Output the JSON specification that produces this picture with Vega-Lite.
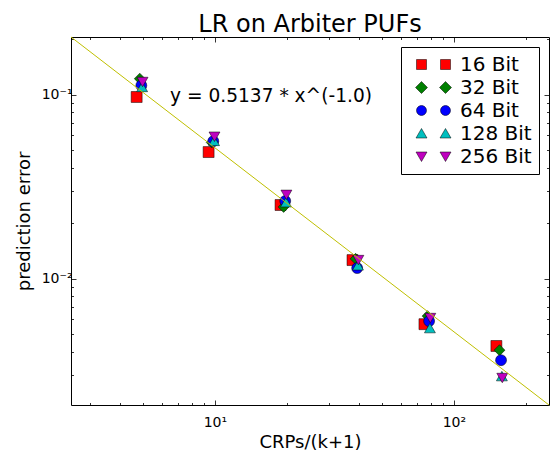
{
  "$schema": "https://vega.github.io/schema/vega-lite/v6.json",
  "width": 478,
  "height": 368,
  "autosize": {"type": "none"},
  "padding": {"left": 71, "top": 37, "right": 5, "bottom": 47},
  "title": {"text": "LR on Arbiter PUFs", "fontSize": 24, "font": "DejaVu Sans", "fontWeight": "normal", "anchor": "middle", "frame": "group", "baseline": "alphabetic", "offset": -24, "color": "black"},
  "config": {
    "view": {"stroke": "black", "strokeWidth": 1},
    "font": "DejaVu Sans",
    "axis": {"domain": false, "grid": false, "labelFont": "DejaVu Sans", "titleFont": "DejaVu Sans", "labelColor": "black", "titleColor": "black", "tickColor": "black", "tickWidth": 0.8, "labelFontSize": 14, "titleFontSize": 18, "titleFontWeight": "normal", "labelOverlap": false, "labelFlush": false, "labelBound": false}
  },
  "datasets": {
    "pts": [
      {"x": 4.706, "y": 0.097, "series": "16 Bit"},
      {"x": 9.412, "y": 0.0487, "series": "16 Bit"},
      {"x": 18.82, "y": 0.0251, "series": "16 Bit"},
      {"x": 37.65, "y": 0.0126, "series": "16 Bit"},
      {"x": 75.29, "y": 0.00565, "series": "16 Bit"},
      {"x": 150.6, "y": 0.0043, "series": "16 Bit"},
      {"x": 4.848, "y": 0.122, "series": "32 Bit"},
      {"x": 9.697, "y": 0.0549, "series": "32 Bit"},
      {"x": 19.39, "y": 0.0245, "series": "32 Bit"},
      {"x": 38.79, "y": 0.0128, "series": "32 Bit"},
      {"x": 77.58, "y": 0.00625, "series": "32 Bit"},
      {"x": 155.2, "y": 0.00408, "series": "32 Bit"},
      {"x": 4.923, "y": 0.112, "series": "64 Bit"},
      {"x": 9.846, "y": 0.0558, "series": "64 Bit"},
      {"x": 19.69, "y": 0.0264, "series": "64 Bit"},
      {"x": 39.38, "y": 0.0114, "series": "64 Bit"},
      {"x": 78.77, "y": 0.00587, "series": "64 Bit"},
      {"x": 157.5, "y": 0.0036, "series": "64 Bit"},
      {"x": 4.961, "y": 0.110, "series": "128 Bit"},
      {"x": 9.922, "y": 0.056, "series": "128 Bit"},
      {"x": 19.84, "y": 0.026, "series": "128 Bit"},
      {"x": 39.69, "y": 0.0118, "series": "128 Bit"},
      {"x": 79.38, "y": 0.00538, "series": "128 Bit"},
      {"x": 158.8, "y": 0.00295, "series": "128 Bit"},
      {"x": 4.981, "y": 0.117, "series": "256 Bit"},
      {"x": 9.961, "y": 0.059, "series": "256 Bit"},
      {"x": 19.92, "y": 0.0285, "series": "256 Bit"},
      {"x": 39.84, "y": 0.0126, "series": "256 Bit"},
      {"x": 79.69, "y": 0.0061, "series": "256 Bit"},
      {"x": 159.4, "y": 0.00288, "series": "256 Bit"}
    ],
    "fit": [
      {"x": 2.5, "y": 0.20548},
      {"x": 250, "y": 0.0020548}
    ],
    "note": [
      {"x": 6.49, "y": 0.098, "label": "y = 0.5137 * x^(-1.0)"}
    ]
  },
  "layer": [
    {
      "data": {"name": "pts"},
      "mark": {"type": "point", "filled": true, "size": 120, "stroke": "black", "strokeWidth": 0.5, "opacity": 1},
      "encoding": {
        "x": {
          "field": "x", "type": "quantitative",
          "scale": {"type": "log", "domain": [2.5, 250], "nice": false},
          "axis": {
            "orient": "bottom",
            "values": [3, 4, 5, 6, 7, 8, 9, 10, 20, 30, 40, 50, 60, 70, 80, 90, 100, 200],
            "labelExpr": "datum.value === 10 ? '10¹' : datum.value === 100 ? '10²' : ''",
            "tickSize": {"condition": {"test": "datum.value === 10 || datum.value === 100", "value": -5}, "value": -2.5},
            "labelPadding": 15,
            "title": "CRPs/(k+1)",
            "titlePadding": 2
          }
        },
        "y": {
          "field": "y", "type": "quantitative",
          "scale": {"type": "log", "domain": [0.0020548, 0.20548], "nice": false},
          "axis": {
            "orient": "left",
            "values": [0.003, 0.004, 0.005, 0.006, 0.007, 0.008, 0.009, 0.01, 0.02, 0.03, 0.04, 0.05, 0.06, 0.07, 0.08, 0.09, 0.1, 0.2],
            "labelExpr": "datum.value === 0.1 ? '10⁻¹' : datum.value === 0.01 ? '10⁻²' : ''",
            "tickSize": {"condition": {"test": "datum.value === 0.1 || datum.value === 0.01", "value": -5}, "value": -2.5},
            "labelPadding": 4,
            "title": "prediction error",
            "titlePadding": 8
          }
        },
        "color": {
          "field": "series", "type": "nominal",
          "scale": {"domain": ["16 Bit", "32 Bit", "64 Bit", "128 Bit", "256 Bit"], "range": ["#ff0000", "#008000", "#0000ff", "#00bfbf", "#bf00bf"]},
          "legend": null
        },
        "shape": {
          "field": "series", "type": "nominal",
          "scale": {"domain": ["16 Bit", "32 Bit", "64 Bit", "128 Bit", "256 Bit"], "range": ["square", "diamond", "circle", "triangle-up", "triangle-down"]},
          "legend": null
        }
      }
    },
    {
      "data": {"name": "fit"},
      "mark": {"type": "line", "color": "#bfbf00", "strokeWidth": 1},
      "encoding": {
        "x": {
          "field": "x", "type": "quantitative",
          "axis": {
            "orient": "top",
            "values": [3, 4, 5, 6, 7, 8, 9, 10, 20, 30, 40, 50, 60, 70, 80, 90, 100, 200],
            "labels": false,
            "title": null,
            "tickSize": {"condition": {"test": "datum.value === 10 || datum.value === 100", "value": -5}, "value": -2.5}
          }
        },
        "y": {
          "field": "y", "type": "quantitative",
          "axis": {
            "orient": "right",
            "values": [0.003, 0.004, 0.005, 0.006, 0.007, 0.008, 0.009, 0.01, 0.02, 0.03, 0.04, 0.05, 0.06, 0.07, 0.08, 0.09, 0.1, 0.2],
            "labels": false,
            "title": null,
            "tickSize": {"condition": {"test": "datum.value === 0.1 || datum.value === 0.01", "value": -5}, "value": -2.5}
          }
        }
      }
    },
    {
      "data": {"name": "note"},
      "mark": {"type": "text", "align": "left", "baseline": "middle", "fontSize": 18.6, "font": "DejaVu Sans", "color": "black"},
      "encoding": {
        "x": {"field": "x", "type": "quantitative", "axis": null},
        "y": {"field": "y", "type": "quantitative", "axis": null},
        "text": {"field": "label"}
      }
    },
    {
      "data": {"name": "pts"},
      "transform": [{"filter": "datum.x < 0"}],
      "mark": {"type": "point", "filled": true, "size": 400, "stroke": "black", "strokeWidth": 0.5, "opacity": 1},
      "encoding": {
        "color": {
          "field": "series", "type": "nominal",
          "scale": {"domain": ["16 Bit", "32 Bit", "64 Bit", "128 Bit", "256 Bit"], "range": ["#ff0000", "#008000", "#0000ff", "#00bfbf", "#bf00bf"]},
          "legend": {
            "title": null,
            "labelExpr": "datum.label + '\u00a0\u00a0'",
            "orient": "top-right",
            "offset": 10,
            "padding": 7,
            "strokeColor": "black",
            "fillColor": "white",
            "cornerRadius": 0,
            "labelFontSize": 20,
            "labelFont": "DejaVu Sans",
            "labelColor": "black",
            "symbolSize": 400,
            "symbolOffset": 15,
            "labelOffset": 16,
            "rowPadding": 2,
            "symbolStrokeColor": "black",
            "symbolStrokeWidth": 0.5
          }
        },
        "shape": {
          "field": "series", "type": "nominal",
          "scale": {"domain": ["16 Bit", "32 Bit", "64 Bit", "128 Bit", "256 Bit"], "range": [
            "M-1.7,-0.5H-0.7V0.5H-1.7Z M0.7,-0.5H1.7V0.5H0.7Z",
            "M-1.2,-0.6L-0.6,0L-1.2,0.6L-1.8,0Z M1.2,-0.6L1.8,0L1.2,0.6L0.6,0Z",
            "M-1.7,0A0.5,0.5 0 1,0 -0.7,0A0.5,0.5 0 1,0 -1.7,0Z M0.7,0A0.5,0.5 0 1,0 1.7,0A0.5,0.5 0 1,0 0.7,0Z",
            "M-1.2,-0.5L-0.65,0.45L-1.75,0.45Z M1.2,-0.5L1.75,0.45L0.65,0.45Z",
            "M-1.2,0.5L-0.65,-0.45L-1.75,-0.45Z M1.2,0.5L1.75,-0.45L0.65,-0.45Z"
          ]},
          "legend": {
            "title": null,
            "labelExpr": "datum.label + '\u00a0\u00a0'",
            "orient": "top-right",
            "offset": 10,
            "padding": 7,
            "strokeColor": "black",
            "fillColor": "white",
            "cornerRadius": 0,
            "labelFontSize": 20,
            "labelFont": "DejaVu Sans",
            "labelColor": "black",
            "symbolSize": 400,
            "symbolOffset": 15,
            "labelOffset": 16,
            "rowPadding": 2,
            "symbolStrokeColor": "black",
            "symbolStrokeWidth": 0.5
          }
        }
      }
    }
  ],
  "resolve": {
    "scale": {"color": "independent", "shape": "independent"},
    "axis": {"x": "independent", "y": "independent"}
  }
}
